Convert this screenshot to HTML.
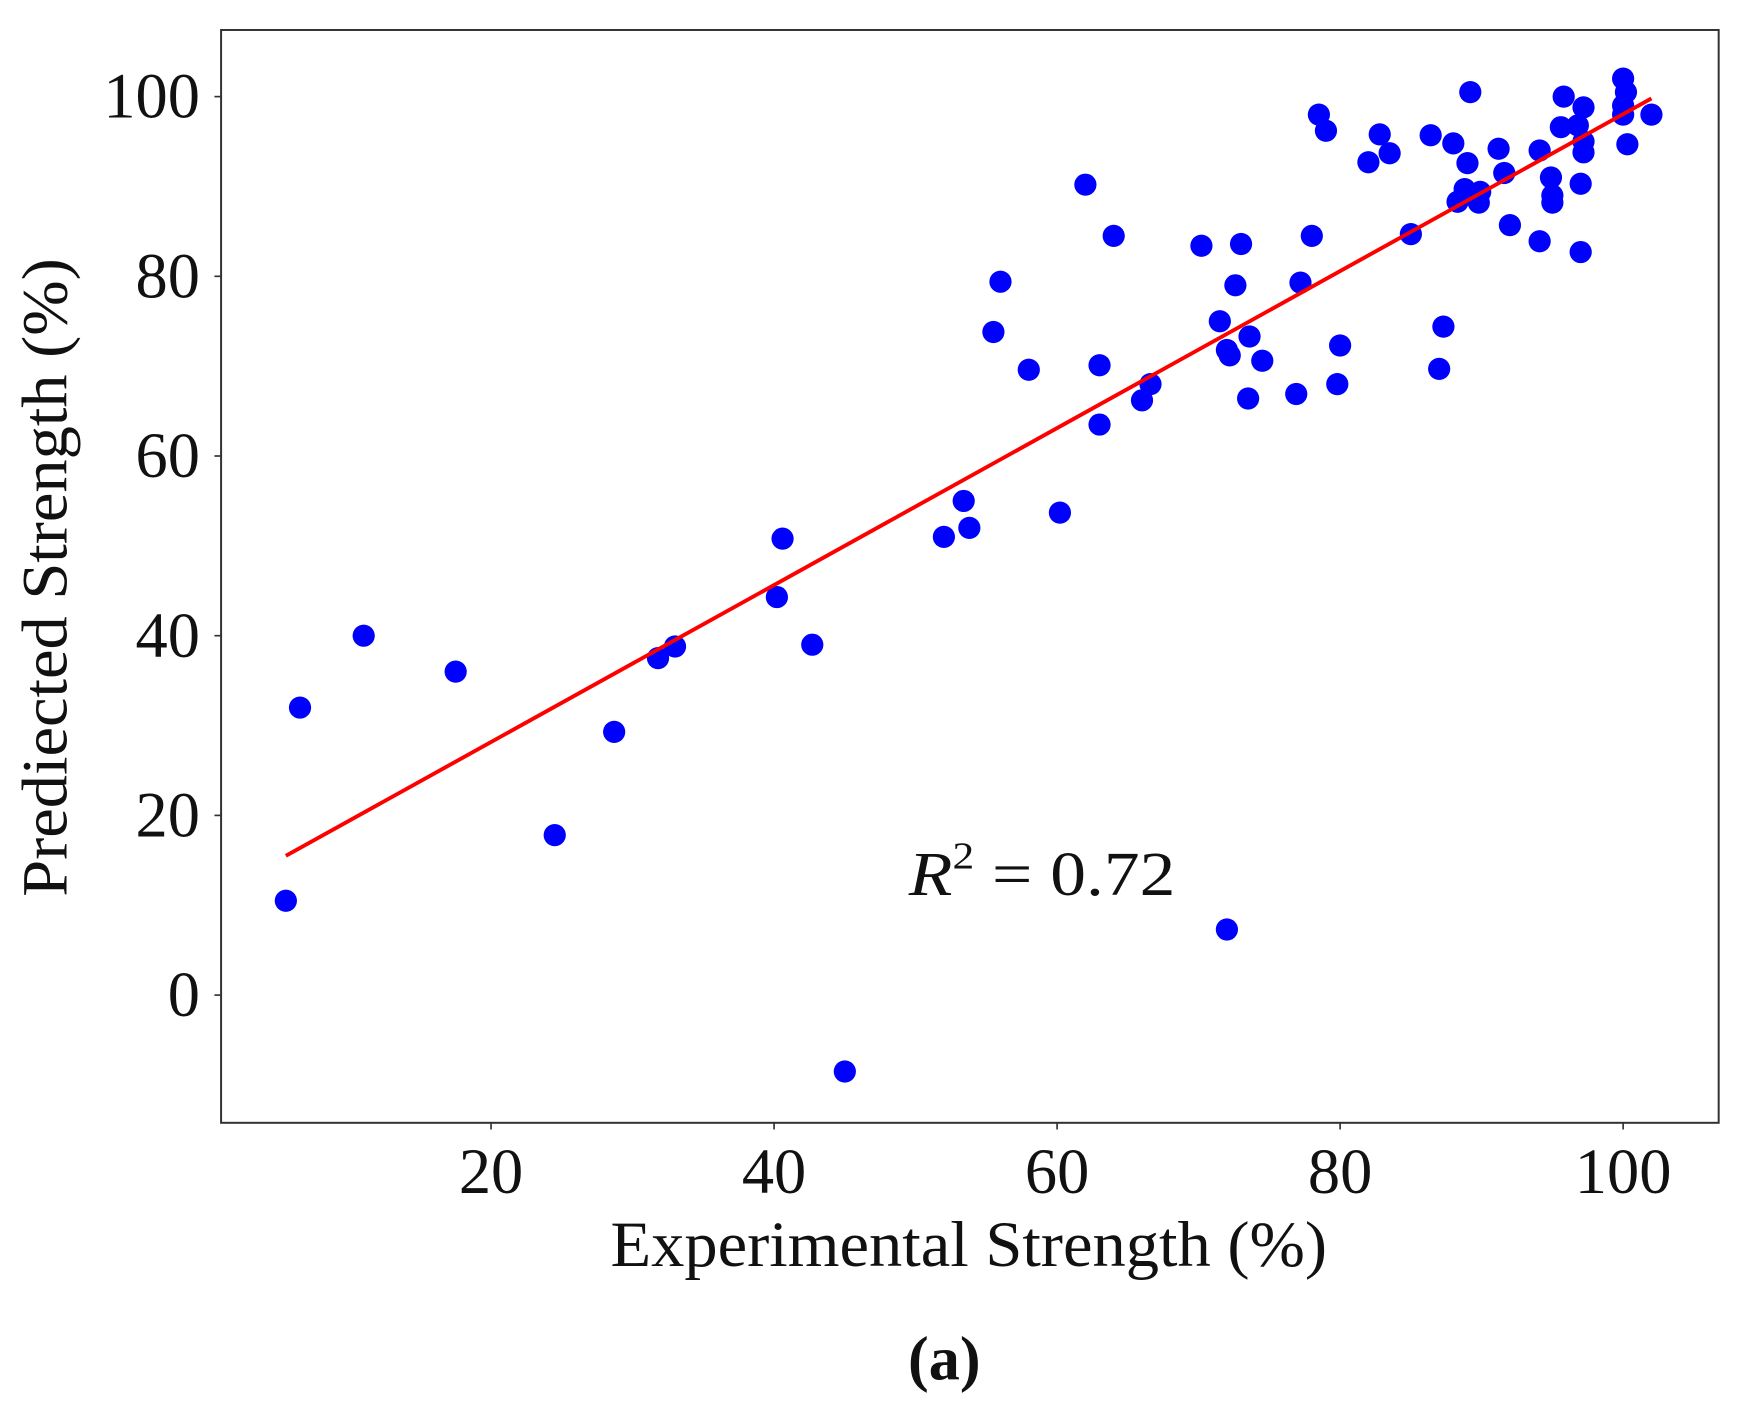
<!DOCTYPE html>
<html><head><meta charset="utf-8"><style>html,body{margin:0;padding:0;background:#fff}svg{display:block}</style></head>
<body>
<svg id="chart" width="1742" height="1426" viewBox="0 0 1568 1284" preserveAspectRatio="none" xmlns="http://www.w3.org/2000/svg" font-family="'Liberation Serif', serif">
<rect x="0" y="0" width="1568" height="1284" fill="#fff"/>
<rect x="199" y="27" width="1348" height="984" fill="none" stroke="#333" stroke-width="1.8"/>
<g id="points"></g>
<g id="fit"></g>
<g id="xticks"></g>
<g id="yticks"></g>
<text x="872" y="1140" font-size="58" text-anchor="middle" fill="#111" textLength="645" lengthAdjust="spacingAndGlyphs">Experimental Strength (%)</text>
<text transform="translate(60,520) rotate(-90)" font-size="58" text-anchor="middle" fill="#111" textLength="575" lengthAdjust="spacingAndGlyphs">Prediected Strength (%)</text>
<text x="818" y="806" font-size="56" fill="#111" textLength="240" lengthAdjust="spacingAndGlyphs"><tspan font-style="italic">R</tspan><tspan font-size="34" dy="-24">2</tspan><tspan dy="24"> = 0.72</tspan></text>
<text x="850" y="1242" font-size="56" font-weight="bold" text-anchor="middle" fill="#111">(a)</text>
</svg>
<script>
const xs = [5.5,6.5,11,17.5,24.5,28.7,31.8,33,40.2,40.6,42.7,45,52,53.4,53.8,55.5,56,58,60.2,62,63,63,64,66,66.6,70.2,71.5,72,72.2,72,72.6,73,73.5,73.6,74.5,76.9,77.2,78,78.5,79,79.8,80,82,82.8,83.5,85,86.4,87,87.3,88,88.3,88.8,89,89.2,89.8,89.9,91.2,91.6,92,94.1,94.1,94.9,95,95,95.6,95.8,96.8,97,97,97.2,97.2,97.2,100,100,100,100.2,100.3,102];
const ys = [10.5,32,40,36,17.8,29.3,37.5,38.8,44.3,50.8,39,-8.5,51,55,52,73.8,79.4,69.6,53.7,90.2,70.1,63.5,84.5,66.2,68,83.4,75,71.8,71.2,7.3,79,83.6,66.4,73.3,70.6,66.9,79.3,84.5,98,96.2,68,72.3,92.7,95.8,93.7,84.7,95.7,69.7,74.4,94.8,88.3,89.7,92.6,100.5,88.2,89.4,94.2,91.5,85.7,94,83.9,91,88.2,89,96.6,100,96.8,90.3,82.7,98.8,95,93.8,102,99,98,100.5,94.7,98];
const fitX = [5.5,102];
const fitY = [15.5,99.8];
const xTickVals = [20,40,60,80,100];
const yTickVals = [0,20,40,60,80,100];
const NS='http://www.w3.org/2000/svg';
function sx(v){return 442+(v-20)*12.7375;}
function sy(v){return 896-v*8.09;}
function mk(tag,attrs,parent){const e=document.createElementNS(NS,tag);for(const k in attrs)e.setAttribute(k,attrs[k]);parent.appendChild(e);return e;}
const pg=document.getElementById('points');
xs.forEach((x,i)=>{const c=mk('circle',{cx:sx(x),cy:sy(ys[i]),r:10,fill:'#0000ff'},pg);

});
const fg=document.getElementById('fit');
const ln=mk('line',{x1:sx(fitX[0]),y1:sy(fitY[0]),x2:sx(fitX[1]),y2:sy(fitY[1]),stroke:'#ff0000','stroke-width':3.5},fg);


const xg=document.getElementById('xticks');
xTickVals.forEach(v=>{const t=mk('text',{x:sx(v),y:1074,'font-size':58,'text-anchor':'middle',fill:'#111'},xg);t.textContent=v;


const m=mk('line',{x1:sx(v),x2:sx(v),y1:1011,y2:1017,stroke:'#333','stroke-width':1.5},xg);

});
const yg=document.getElementById('yticks');
yTickVals.forEach(v=>{const t=mk('text',{x:180,y:sy(v)+19,'font-size':58,'text-anchor':'end',fill:'#111'},yg);t.textContent=v;


const m=mk('line',{x1:193,x2:199,y1:sy(v),y2:sy(v),stroke:'#333','stroke-width':1.5},yg);

});
</script>
</body></html>
